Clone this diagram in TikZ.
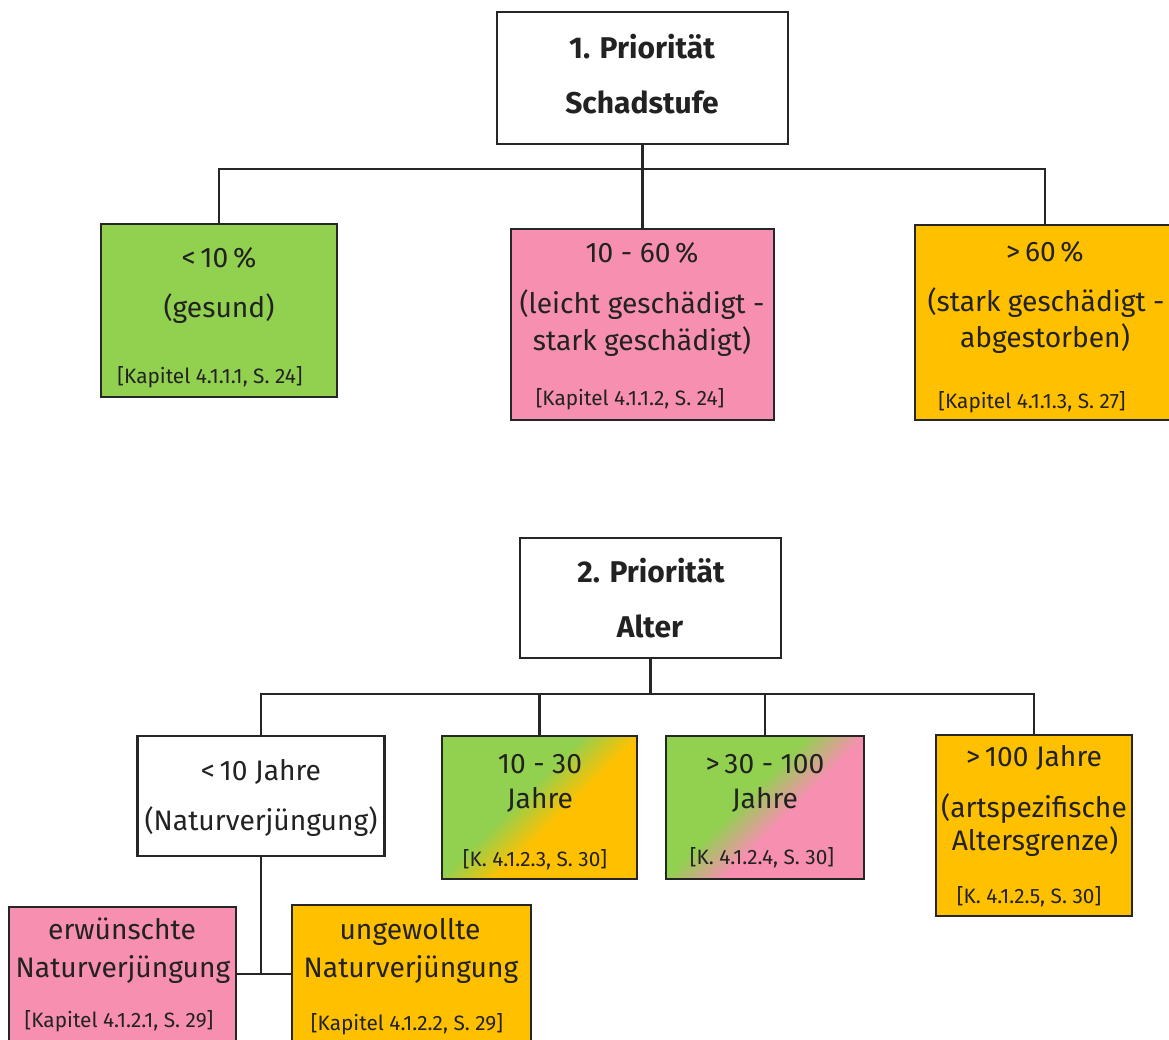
\documentclass[tikz,border=0pt]{standalone}
\usepackage{fontspec}
\setmainfont{Fira Sans}
\definecolor{cgreen}{RGB}{146,208,80}
\definecolor{cpink}{RGB}{246,143,176}
\definecolor{cyellow}{RGB}{255,192,0}
\definecolor{lc}{RGB}{38,38,38}
\definecolor{tc}{RGB}{34,34,34}
\pgfdeclarehorizontalshading{gy}{100bp}{color(0bp)=(cgreen); color(44bp)=(cgreen); color(56bp)=(cyellow); color(100bp)=(cyellow)}
\pgfdeclarehorizontalshading{gp}{100bp}{color(0bp)=(cgreen); color(44bp)=(cgreen); color(56bp)=(cpink); color(100bp)=(cpink)}
\tikzset{
  bx/.style={draw=lc, line width=2.6pt, inner sep=0pt},
  big/.style={font=\fontsize{28.2}{30}\selectfont, text=tc, anchor=base, inner sep=0pt},
  cit/.style={font=\fontsize{20.8}{22}\selectfont, text=tc, anchor=base, inner sep=0pt},
  ttl/.style={font=\bfseries\fontsize{30}{32}\selectfont, text=tc, anchor=base, inner sep=0pt},
  conn/.style={draw=lc, line width=2.5pt},
}
\begin{document}
\begin{tikzpicture}[x=1pt,y=-1pt]
\useasboundingbox (0,0) rectangle (1169,1040);
% ---------- boxes, part 1
\node[bx, fill=white, minimum width=291pt, minimum height=132pt] (p1) at (642.5,78) {};
\node[bx, fill=cgreen, minimum width=236pt, minimum height=173pt] (g1) at (219,310.5) {};
\node[bx, fill=cpink, minimum width=263pt, minimum height=191pt] (r1) at (642.5,324.5) {};
\node[bx, fill=cyellow, minimum width=260pt, minimum height=195pt] (y1) at (1045,322.5) {};
% ---------- boxes, part 2
\node[bx, fill=white, minimum width=261pt, minimum height=120pt] (p2) at (650.5,598) {};
\node[bx, fill=white, minimum width=247pt, minimum height=120pt] (w2) at (261,796) {};
\node[bx, shade, shading=gy, shading angle=-45, minimum width=195pt, minimum height=143pt] (gr1) at (539.5,807.5) {};
\node[bx, shade, shading=gp, shading angle=-45, minimum width=198pt, minimum height=143pt] (gr2) at (765,807.5) {};
\node[bx, fill=cyellow, minimum width=196pt, minimum height=181pt] (y2) at (1034,825.5) {};
\node[bx, fill=cpink, minimum width=227pt, minimum height=143pt] (r3) at (122.5,978.5) {};
\node[bx, fill=cyellow, minimum width=239pt, minimum height=145pt] (y3) at (411.5,977.5) {};
% ---------- connectors
\draw[conn] (p1.south) -- (p1.south |- 0,169) coordinate (b1);
\draw[conn] (g1.north) |- (b1) -| (y1.north);
\draw[conn] (b1) -- (r1.north);
\draw[conn] (p2.south) -- (p2.south |- 0,694) coordinate (b2);
\draw[conn] (w2.north) |- (b2) -| (y2.north);
\draw[conn] (gr1.north) -- (gr1.north |- b2);
\draw[conn] (gr2.north) -- (gr2.north |- b2);
\draw[conn] (w2.south) -- (w2.south |- 0,974) coordinate (b3);
\draw[conn] (r3.east |- b3) -- (y3.west |- b3);
% ---------- texts
\node[ttl] (t1a) at (642,59) {1. Priorität};
\node[ttl] (t1b) at (642,114) {Schadstufe};
\node[big] (g1a) at (219,268) {<\,10\,\%};
\node[big] (g1b) at (219,318) {(gesund)};
\node[cit] (g1c) at (210,383) {[Kapitel 4.1.1.1, S. 24]};
\node[big] (r1a) at (642,263) {10 - 60\,\%};
\node[big] (r1b) at (642,314) {(leicht geschädigt -};
\node[big] (r1c) at (642,350) {stark geschädigt)};
\node[cit] (r1d) at (630,405) {[Kapitel 4.1.1.2, S. 24]};
\node[big] (y1a) at (1045,262) {>\,60\,\%};
\node[big] (y1b) at (1046,312) {(stark geschädigt -};
\node[big] (y1c) at (1045,348) {abgestorben)};
\node[cit] (y1d) at (1032,408) {[Kapitel 4.1.1.3, S. 27]};
\node[ttl] (t2a) at (651,582) {2. Priorität};
\node[ttl] (t2b) at (650,637) {Alter};
\node[big] (w2a) at (261,780) {<\,10 Jahre};
\node[big] (w2b) at (261,830) {(Naturverjüngung)};
\node[big] (gr1a) at (540,773) {10 - 30};
\node[big] (gr1b) at (540,808) {Jahre};
\node[cit] (gr1c) at (535,866) {[K. 4.1.2.3, S. 30]};
\node[big] (gr2a) at (765,773) {>\,30 - 100};
\node[big] (gr2b) at (765,808) {Jahre};
\node[cit] (gr2c) at (762,864) {[K. 4.1.2.4, S. 30]};
\node[big] (y2a) at (1034,766) {>\,100 Jahre};
\node[big] (y2b) at (1034,817) {(artspezifische};
\node[big] (y2c) at (1035,850) {Altersgrenze)};
\node[cit] (y2d) at (1029,903) {[K. 4.1.2.5, S. 30]};
\node[big] (r3a) at (122,939) {erwünschte};
\node[big] (r3b) at (123,977) {Naturverjüngung};
\node[cit] (r3c) at (119,1027) {[Kapitel 4.1.2.1, S. 29]};
\node[big] (y3a) at (410,939) {ungewollte};
\node[big] (y3b) at (411,977) {Naturverjüngung};
\node[cit] (y3c) at (407,1030) {[Kapitel 4.1.2.2, S. 29]};
\end{tikzpicture}
\end{document}
